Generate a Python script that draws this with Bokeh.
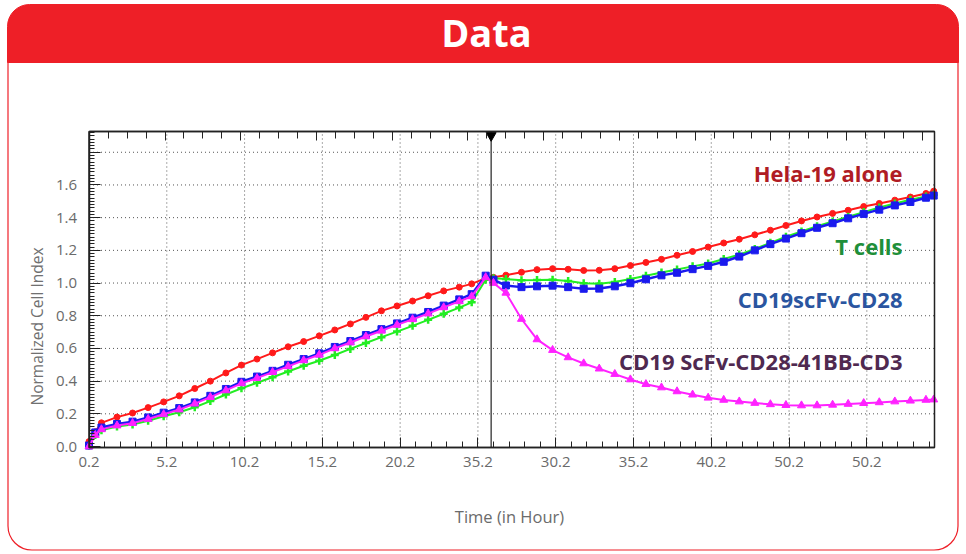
import math
from bokeh.plotting import figure
from bokeh.models import Range1d, FixedTicker, LinearAxis, Label, BoxAnnotation, ColumnDataSource
from bokeh.embed import file_html
from bokeh.resources import INLINE

# ---------------- data ----------------
hours = [0.2, 0.6, 1, 2, 3, 4, 5, 6, 7, 8, 9, 10, 11, 12, 13, 14, 15, 16, 17, 18, 19, 20,
         21, 22, 23, 24, 24.8, 25.7, 26.2, 27, 28, 29, 30, 31, 32, 33, 34, 35, 36, 37, 38,
         39, 40, 41, 42, 43, 44, 45, 46, 47, 48, 49, 50, 51, 52, 53, 54, 54.5]

hela_alone = [0.03, 0.09, 0.145, 0.18, 0.205, 0.238, 0.273, 0.31, 0.355, 0.40, 0.45, 0.498,
              0.535, 0.573, 0.61, 0.642, 0.677, 0.713, 0.75, 0.79, 0.83, 0.86, 0.89, 0.922,
              0.952, 0.975, 0.995, 1.03, 1.035, 1.048, 1.066, 1.082, 1.088, 1.084, 1.077,
              1.078, 1.088, 1.107, 1.126, 1.145, 1.17, 1.193, 1.22, 1.245, 1.268, 1.295,
              1.323, 1.352, 1.38, 1.404, 1.426, 1.445, 1.468, 1.487, 1.507, 1.526, 1.548, 1.562]

t_cells = [0.005, 0.07, 0.1, 0.122, 0.135, 0.158, 0.185, 0.21, 0.24, 0.278, 0.318, 0.356,
           0.39, 0.424, 0.459, 0.494, 0.525, 0.56, 0.597, 0.633, 0.669, 0.703, 0.738, 0.775,
           0.812, 0.85, 0.882, 1.02, 1.03, 1.025, 1.017, 1.018, 1.02, 1.012, 0.999, 0.996,
           1.006, 1.025, 1.045, 1.064, 1.083, 1.102, 1.12, 1.147, 1.174, 1.208, 1.246, 1.283,
           1.315, 1.348, 1.377, 1.406, 1.434, 1.462, 1.486, 1.51, 1.53, 1.54]

cd28 = [0.006, 0.086, 0.116, 0.138, 0.152, 0.178, 0.207, 0.235, 0.27, 0.31, 0.352, 0.396,
        0.428, 0.463, 0.5, 0.535, 0.57, 0.609, 0.645, 0.682, 0.718, 0.753, 0.788, 0.823,
        0.862, 0.9, 0.932, 1.045, 1.02, 0.985, 0.975, 0.98, 0.984, 0.975, 0.965, 0.966,
        0.98, 0.999, 1.023, 1.047, 1.063, 1.085, 1.105, 1.13, 1.162, 1.2, 1.238, 1.272,
        1.305, 1.338, 1.366, 1.396, 1.423, 1.449, 1.475, 1.496, 1.522, 1.535]

cd28_41bb_cd3 = [0.0, 0.07, 0.105, 0.128, 0.143, 0.168, 0.197, 0.226, 0.262, 0.302, 0.343,
                 0.386, 0.418, 0.455, 0.49, 0.527, 0.561, 0.6, 0.636, 0.673, 0.708, 0.744,
                 0.778, 0.813, 0.851, 0.888, 0.918, 1.035, 1.0, 0.94, 0.78, 0.655, 0.59,
                 0.545, 0.508, 0.476, 0.443, 0.41, 0.381, 0.361, 0.337, 0.317, 0.298, 0.285,
                 0.275, 0.266, 0.258, 0.253, 0.251, 0.251, 0.255, 0.26, 0.265, 0.27, 0.275,
                 0.28, 0.285, 0.287]

series_names = ["Hela-19 alone", "T cells", "CD19scFv-CD28", "CD19 ScFv-CD28-41BB-CD3"]

x_ticks = [0.2, 5.2, 10.2, 15.2, 20.2, 25.2, 30.2, 35.2, 40.2, 45.2, 50.2]
x_tick_labels = ["0.2", "5.2", "10.2", "15.2", "20.2", "35.2", "30.2", "35.2", "40.2", "50.2", "50.2"]
y_ticks = [0.0, 0.2, 0.4, 0.6, 0.8, 1.0, 1.2, 1.4, 1.6, 1.8]
y_tick_labels = ["0.0", "0.2", "0.4", "0.6", "0.8", "1.0", "1.2", "1.4", "1.6", ""]
event_time = 26.05

# ---------------- layout geometry (page pixels) ----------------
W, H = 966, 554
X0, X1 = 0.2, 54.55          # plotted data window
Y0, Y1 = -0.006, 1.927
FL, FR, FT, FB = 88.5, 934.0, 131.0, 447.0   # plot box on the page
SX = (FR - FL) / (X1 - X0)
SY = (FB - FT) / (Y1 - Y0)


def hx(px):
    return X0 + (px - FL) / SX


def vy(py):
    return Y0 + (FB - py) / SY


p = figure(width=W, height=H, output_backend="svg", toolbar_location=None,
           x_range=Range1d(hx(0), hx(W)), y_range=Range1d(vy(H), vy(0)),
           min_border=0)
p.background_fill_color = "white"
p.border_fill_color = "white"
p.outline_line_color = None
p.xgrid.visible = False
p.ygrid.visible = False

red = "#ee1f27"
# banner and panel
p.add_layout(BoxAnnotation(left=hx(7), right=hx(958), top=vy(4), bottom=vy(62),
                           fill_color=red, fill_alpha=1, line_color=red, line_alpha=1,
                           line_width=1, border_radius=(22, 22, 0, 0), level="underlay"))
p.add_layout(BoxAnnotation(left=hx(7.5), right=hx(957.5), top=vy(62), bottom=vy(549.5),
                           fill_alpha=0, line_color=red, line_alpha=1, line_width=1.2,
                           border_radius=(0, 0, 24, 24), level="underlay"))
p.add_layout(Label(x=hx(486), y=vy(31.5), text="Data", text_align="center", text_baseline="middle",
                   text_font="Open Sans", text_font_style="bold",
                   text_font_size="38px", text_color="white"))

# grid lines at the major tick positions, limited to the plot box
gx = x_ticks[1:]
gy = y_ticks[1:]
p.segment(x0=gx, y0=[Y0] * len(gx), x1=gx, y1=[Y1] * len(gx),
          line_color="#555555", line_dash="1 3", line_width=1)
p.segment(x0=[X0] * len(gy), y0=gy, x1=[X1] * len(gy), y1=gy,
          line_color="#555555", line_dash="1 3", line_width=1)

x_minor = [0.2 + k for k in range(55)]
y_minor = [round(0.02 * k, 3) for k in range(0, 97)]

xa = p.xaxis[0]
xa.fixed_location = Y0
xa.bounds = (X0, X1)
xa.ticker = FixedTicker(ticks=x_ticks, minor_ticks=x_minor)
xa.major_label_overrides = {t: l for t, l in zip(x_ticks, x_tick_labels)}
ya = p.yaxis[0]
ya.fixed_location = X0
ya.bounds = (Y0, Y1)
ya.ticker = FixedTicker(ticks=y_ticks, minor_ticks=y_minor)
ya.major_label_overrides = {t: l for t, l in zip(y_ticks, y_tick_labels)}

for ax in (xa, ya):
    ax.axis_line_color = "#222222"
    ax.axis_line_width = 1.5
    ax.major_tick_line_color = "#222222"
    ax.minor_tick_line_color = "#222222"
    ax.major_tick_out = 0
    ax.minor_tick_out = 0
    ax.major_label_text_color = "#6a6a6a"
    ax.major_label_text_font = "Open Sans"
    ax.major_label_text_font_size = "15px"
xa.major_tick_in = 10
xa.minor_tick_in = 6
xa.major_label_standoff = 9
ya.major_tick_in = 11
ya.minor_tick_in = 5
ya.major_label_standoff = 12

# top axis (ticks only)
top_major = [0.22 + 4.868 * k for k in range(12)]
top_minor = [0.22 + 1.217 * k for k in range(45)]
top = LinearAxis(ticker=FixedTicker(ticks=top_major, minor_ticks=top_minor),
                 major_label_overrides={t: "" for t in top_major},
                 fixed_location=Y1, bounds=(X0, X1))
top.axis_line_color = "#222222"
top.axis_line_width = 1.5
top.major_tick_line_color = "#222222"
top.minor_tick_line_color = "#222222"
top.major_tick_in = 9
top.major_tick_out = 0
top.minor_tick_in = 7
top.minor_tick_out = 0
top.major_label_text_font_size = "1px"
p.add_layout(top, "above")

src = ColumnDataSource(dict(h=hours, hela=hela_alone, tc=t_cells, c28=cd28, c3=cd28_41bb_cd3))

p.line("h", "hela", source=src, line_color="#ff1a1a", line_width=2)
p.scatter("h", "hela", source=src, marker="circle", size=6, color="#ff1a1a")
p.line("h", "tc", source=src, line_color="#22ee22", line_width=2)
p.scatter("h", "tc", source=src, marker="cross", size=8, line_width=2.5, color="#22ee22")
p.line("h", "c28", source=src, line_color="#1a1aee", line_width=2.5)
p.scatter("h", "c28", source=src, marker="square", size=7, color="#1a1aee")
p.line("h", "c3", source=src, line_color="#ff22ff", line_width=2)
p.scatter("h", "c3", source=src, marker="triangle", size=8, color="#ff22ff")

# plot box border and treatment marker
p.add_layout(BoxAnnotation(left=X0, right=X1, bottom=Y0, top=Y1, fill_alpha=0,
                           line_color="#222222", line_alpha=1, line_width=1.5))
p.segment(x0=[event_time], y0=[Y0], x1=[event_time], y1=[Y1], line_color="#222222", line_width=1.2)
p.scatter([event_time], [Y1 - 4 / SY], marker="inverted_triangle", size=10, color="black")

# series labels
lab_x = hx(902)
label_specs = [(series_names[0], 172, "#b01c24"), (series_names[1], 245, "#1f8f3a"),
               (series_names[2], 298, "#2a55a0"), (series_names[3], 360, "#4f2950")]
for txt, py, col in label_specs:
    p.add_layout(Label(x=lab_x, y=vy(py), text=txt, text_align="right", text_baseline="middle",
                       text_font="Open Sans", text_font_style="bold",
                       text_font_size="22px", text_color=col))

# axis titles
p.add_layout(Label(x=hx(36.3), y=vy(326), text="Normalized Cell Index", angle=math.pi / 2,
                   text_align="center", text_baseline="middle", text_font="Open Sans",
                   text_font_size="15.5px", text_color="#707070"))
p.add_layout(Label(x=hx(509), y=vy(515.7), text="Time (in Hour)", text_align="center",
                   text_baseline="middle", text_font="Open Sans",
                   text_font_size="16.5px", text_color="#6b6b6b"))

open("out.html", "w").write(file_html(p, INLINE))
